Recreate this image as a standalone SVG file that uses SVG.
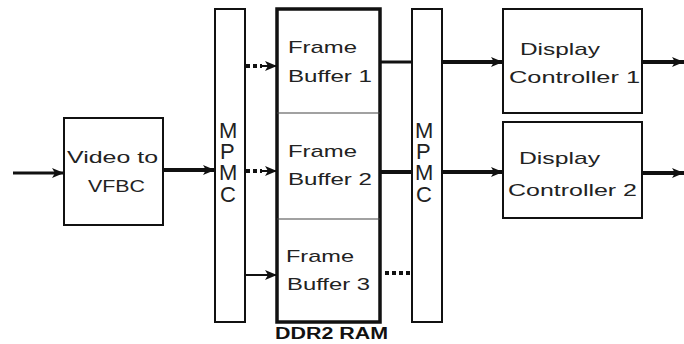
<svg xmlns="http://www.w3.org/2000/svg" width="684" height="344" viewBox="0 0 684 344">
<style>
.box{fill:#fff;stroke:#111;stroke-width:2}
.ram{fill:#fff;stroke:#111;stroke-width:3.5}
.div{stroke:#444;stroke-width:1.2}
.t{font-family:"Liberation Sans",Arial,sans-serif;font-size:17px;fill:#222}
.m{font-family:"Liberation Sans",Arial,sans-serif;font-size:22px;fill:#222}
.b{font-family:"Liberation Sans",Arial,sans-serif;font-size:16px;font-weight:bold;fill:#111}
.thick{stroke:#111;stroke-width:4;fill:none}
.med{stroke:#111;stroke-width:3;fill:none}
.thin{stroke:#111;stroke-width:2;fill:none}
.dots{stroke:#111;stroke-width:4;stroke-dasharray:4 3;fill:none}
</style>
<defs>
<marker id="ah" markerUnits="userSpaceOnUse" markerWidth="14" markerHeight="12" refX="12" refY="6" orient="auto">
<path d="M0,1 L12,6 L0,11 L3,6 Z" fill="#111"/>
</marker>
</defs>
<g id="connectors">
<line class="med" x1="13" y1="173" x2="64" y2="173" marker-end="url(#ah)"/>
<line class="thick" x1="163" y1="170" x2="215" y2="170" marker-end="url(#ah)"/>
<line class="dots" x1="246" y1="66" x2="262" y2="66"/>
<line class="thin" x1="262" y1="66" x2="277" y2="66" marker-end="url(#ah)"/>
<line class="dots" x1="246" y1="171" x2="262" y2="171"/>
<line class="thin" x1="262" y1="171" x2="277" y2="171" marker-end="url(#ah)"/>
<line class="thin" x1="245" y1="275" x2="277" y2="275" marker-end="url(#ah)"/>
<line class="med" x1="380" y1="62" x2="412" y2="62"/>
<line class="thick" x1="380" y1="172" x2="412" y2="172"/>
<line class="dots" x1="385" y1="273" x2="411" y2="273"/>
<line class="thick" x1="442" y1="62" x2="503" y2="62" marker-end="url(#ah)"/>
<line class="thick" x1="442" y1="172" x2="503" y2="172" marker-end="url(#ah)"/>
<line class="thick" x1="642" y1="62" x2="684" y2="62" marker-end="url(#ah)"/>
<line class="thick" x1="642" y1="173" x2="684" y2="173" marker-end="url(#ah)"/>
</g>
<g id="video-to-vfbc">
<rect class="box" x="64" y="118" width="99" height="107"/>
<text class="t" x="67" y="163" textLength="91" lengthAdjust="spacingAndGlyphs">Video to</text>
<text class="t" x="88" y="192" textLength="57" lengthAdjust="spacingAndGlyphs">VFBC</text>
</g>
<g id="mpmc1">
<rect class="box" x="215" y="9" width="30" height="313"/>
<text class="m"><tspan x="219" y="138">M</tspan><tspan x="220" y="159">P</tspan><tspan x="219" y="180">M</tspan><tspan x="220" y="202">C</tspan></text>
</g>
<g id="ddr2-ram">
<rect class="ram" x="277" y="9" width="103" height="313"/>
<line class="div" x1="277" y1="113" x2="380" y2="113"/>
<line class="div" x1="277" y1="219" x2="380" y2="219"/>
<text class="b" x="275" y="339" textLength="113" lengthAdjust="spacingAndGlyphs">DDR2 RAM</text>
</g>
<g id="frame-buffer-1">
<text class="t" x="288" y="53" textLength="69" lengthAdjust="spacingAndGlyphs">Frame</text>
<text class="t" x="288" y="82" textLength="84" lengthAdjust="spacingAndGlyphs">Buffer 1</text>
</g>
<g id="frame-buffer-2">
<text class="t" x="288" y="157" textLength="69" lengthAdjust="spacingAndGlyphs">Frame</text>
<text class="t" x="288" y="185" textLength="84" lengthAdjust="spacingAndGlyphs">Buffer 2</text>
</g>
<g id="frame-buffer-3">
<text class="t" x="286" y="262" textLength="68" lengthAdjust="spacingAndGlyphs">Frame</text>
<text class="t" x="287" y="290" textLength="83" lengthAdjust="spacingAndGlyphs">Buffer 3</text>
</g>
<g id="mpmc2">
<rect class="box" x="412" y="9" width="30" height="313"/>
<text class="m"><tspan x="415" y="138">M</tspan><tspan x="416" y="159">P</tspan><tspan x="415" y="180">M</tspan><tspan x="416" y="202">C</tspan></text>
</g>
<g id="display-controller-1">
<rect class="box" x="503" y="9" width="139" height="104"/>
<text class="t" x="520" y="55" textLength="80" lengthAdjust="spacingAndGlyphs">Display</text>
<text class="t" x="509" y="83" textLength="131" lengthAdjust="spacingAndGlyphs">Controller 1</text>
</g>
<g id="display-controller-2">
<rect class="box" x="503" y="122" width="139" height="96"/>
<text class="t" x="519" y="164" textLength="81" lengthAdjust="spacingAndGlyphs">Display</text>
<text class="t" x="508" y="196" textLength="129" lengthAdjust="spacingAndGlyphs">Controller 2</text>
</g>
</svg>
